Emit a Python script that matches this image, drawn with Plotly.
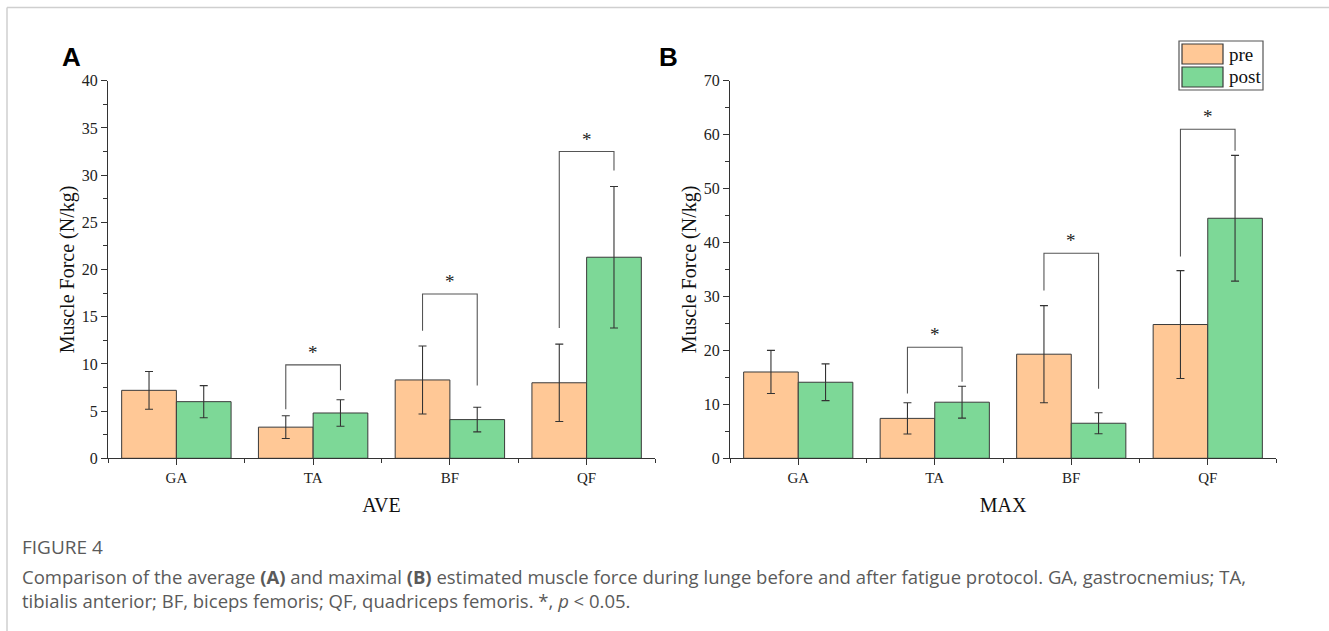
import plotly.graph_objects as go

W, H = 1329, 631

# ---------------- data ----------------
cats = ["GA", "TA", "BF", "QF"]
xi = [0, 1, 2, 3]

ave_pre = [7.2, 3.3, 8.3, 8.0]
ave_pre_err = [2.0, 1.2, 3.6, 4.1]
ave_post = [6.0, 4.8, 4.1, 21.3]
ave_post_err = [1.7, 1.4, 1.3, 7.5]

max_pre = [16.0, 7.4, 19.3, 24.8]
max_pre_err = [4.0, 2.9, 9.0, 10.0]
max_post = [14.1, 10.4, 6.5, 44.5]
max_post_err = [3.4, 2.95, 1.95, 11.65]

# significance brackets (category index, bracket top, left leg bottom, right leg bottom)
ave_br_idx = [1, 2, 3]
ave_br_top = [9.9, 17.4, 32.5]
ave_br_left = [5.2, 13.5, 13.8]
ave_br_right = [7.2, 7.7, 30.5]

max_br_idx = [1, 2, 3]
max_br_top = [20.6, 38.0, 61.0]
max_br_left = [12.0, 31.1, 37.4]
max_br_right = [14.2, 12.9, 57.0]

PRE_C = "#FFC896"
POST_C = "#7DD897"
EDGE = "#3a3a3a"
SERIF = "Liberation Serif"

def X(px):
    return px / W

def Y(py):
    return 1 - py / H

fig = go.Figure()

def add_panel(pre, pre_err, post, post_err, xa, ya, bidx, btop, bl, br):
    fig.add_trace(go.Bar(
        x=xi, y=pre, name="pre", offsetgroup="pre", showlegend=False,
        marker=dict(color=PRE_C, line=dict(color=EDGE, width=1)),
        error_y=dict(type="data", array=pre_err, color="#333", thickness=1.1, width=4),
        xaxis=xa, yaxis=ya))
    fig.add_trace(go.Bar(
        x=xi, y=post, name="post", offsetgroup="post", showlegend=False,
        marker=dict(color=POST_C, line=dict(color=EDGE, width=1)),
        error_y=dict(type="data", array=post_err, color="#333", thickness=1.1, width=4),
        xaxis=xa, yaxis=ya))
    bx, by = [], []
    for i, t, l, r in zip(bidx, btop, bl, br):
        bx += [i - 0.2, i - 0.2, i + 0.2, i + 0.2, None]
        by += [l, t, t, r, None]
    fig.add_trace(go.Scatter(x=bx, y=by, mode="lines", showlegend=False,
                             line=dict(color="#555", width=1.1),
                             xaxis=xa, yaxis=ya, hoverinfo="skip"))
    for i, t in zip(bidx, btop):
        fig.add_annotation(x=i, y=t, xref=xa, yref=ya, text="*", showarrow=False,
                           yanchor="bottom", font=dict(family=SERIF, size=19, color="#222"))

add_panel(ave_pre, ave_pre_err, ave_post, ave_post_err, "x", "y",
          ave_br_idx, ave_br_top, ave_br_left, ave_br_right)
add_panel(max_pre, max_pre_err, max_post, max_post_err, "x2", "y2",
          max_br_idx, max_br_top, max_br_left, max_br_right)

ydom = [Y(458.3), Y(80.7)]
tickfont = dict(family=SERIF, size=16, color="#222")
cattickfont = dict(family=SERIF, size=15, color="#222")
titlefont = dict(family=SERIF, size=20, color="#111")

def xaxis(dom, title, anchor):
    return dict(domain=dom, anchor=anchor, range=[-0.5, 3.5], tickmode="array",
                tickvals=xi, ticktext=cats, ticks="outside", ticklen=6, tickwidth=1.2,
                tickcolor="#333", showline=True, linecolor="#333", linewidth=1.3,
                showgrid=False, zeroline=False, tickfont=cattickfont, automargin=False,
                minor=dict(tickmode="array", tickvals=[-0.5, 0.5, 1.5, 2.5, 3.5],
                           ticks="outside", ticklen=4, tickcolor="#333", tickwidth=1.2),
                title=dict(text=title, font=titlefont, standoff=12), fixedrange=True)

def yaxis(rng, dt, anchor):
    return dict(domain=ydom, anchor=anchor, range=rng, dtick=dt, tick0=0,
                ticks="outside", ticklen=6, tickwidth=1.2, tickcolor="#333",
                showline=True, linecolor="#333", linewidth=1.3, showgrid=False,
                zeroline=False, tickfont=tickfont, automargin=False,
                minor=dict(dtick=dt / 2, ticks="outside", ticklen=4,
                           tickcolor="#333", tickwidth=1.2),
                title=dict(text="Muscle Force (N/kg)", font=titlefont, standoff=1),
                fixedrange=True)

fig.update_layout(
    width=W, height=H, autosize=False,
    margin=dict(l=0, r=0, t=0, b=0, pad=0, autoexpand=False),
    paper_bgcolor="white", plot_bgcolor="white",
    barmode="group", bargap=0.2, bargroupgap=0,
    xaxis=xaxis([X(108), X(655)], "AVE", "y"),
    yaxis=yaxis([0, 40], 5, "x"),
    xaxis2=xaxis([X(730), X(1276)], "MAX", "y2"),
    yaxis2=yaxis([0, 70], 10, "x2"),
    showlegend=False,
)

shapes = []
# page frame
shapes.append(dict(type="line", xref="paper", yref="paper", x0=X(7), x1=1, y0=Y(7.5), y1=Y(7.5),
                   line=dict(color="#cfcfcf", width=1.5)))
shapes.append(dict(type="line", xref="paper", yref="paper", x0=X(7), x1=X(7), y0=Y(7.5), y1=0,
                   line=dict(color="#cfcfcf", width=1.5)))
# manual legend
shapes.append(dict(type="rect", xref="paper", yref="paper", x0=X(1179), x1=X(1263), y0=Y(90), y1=Y(41),
                   line=dict(color="#555", width=1.2), fillcolor="white"))
shapes.append(dict(type="rect", xref="paper", yref="paper", x0=X(1182), x1=X(1223), y0=Y(64), y1=Y(44),
                   line=dict(color=EDGE, width=1.2), fillcolor=PRE_C))
shapes.append(dict(type="rect", xref="paper", yref="paper", x0=X(1182), x1=X(1223), y0=Y(87), y1=Y(67),
                   line=dict(color=EDGE, width=1.2), fillcolor=POST_C))
fig.update_layout(shapes=shapes)

ann = [
    dict(text="pre", x=X(1227), y=Y(54), xanchor="left", yanchor="middle",
         font=dict(family=SERIF, size=19, color="#111")),
    dict(text="post", x=X(1227), y=Y(77), xanchor="left", yanchor="middle",
         font=dict(family=SERIF, size=19, color="#111")),
    dict(text="<b>A</b>", x=X(71), y=Y(57), xanchor="center", yanchor="middle",
         font=dict(family="Liberation Sans", size=26, color="#000")),
    dict(text="<b>B</b>", x=X(669), y=Y(57), xanchor="center", yanchor="middle",
         font=dict(family="Liberation Sans", size=26, color="#000")),
    dict(text="FIGURE 4", x=X(20), y=Y(547), xanchor="left", yanchor="middle",
         font=dict(family="Open Sans", size=19, color="#5a5a5a")),
    dict(text="Comparison of the average <b>(A)</b> and maximal <b>(B)</b> estimated muscle force during lunge "
              "before and after fatigue protocol. GA, gastrocnemius; TA,<br>"
              "tibialis anterior; BF, biceps femoris; QF, quadriceps femoris. *, <i>p</i> &lt; 0.05.",
         x=X(20), y=Y(588), xanchor="left", yanchor="middle", align="left",
         font=dict(family="Open Sans", size=18.5, color="#5a5a5a")),
]
for a in ann:
    fig.add_annotation(xref="paper", yref="paper", showarrow=False, **a)

fig.write_html("out.html", config={"displayModeBar": False},
               post_script="document.body.style.margin='0';document.body.style.overflow='hidden';")
